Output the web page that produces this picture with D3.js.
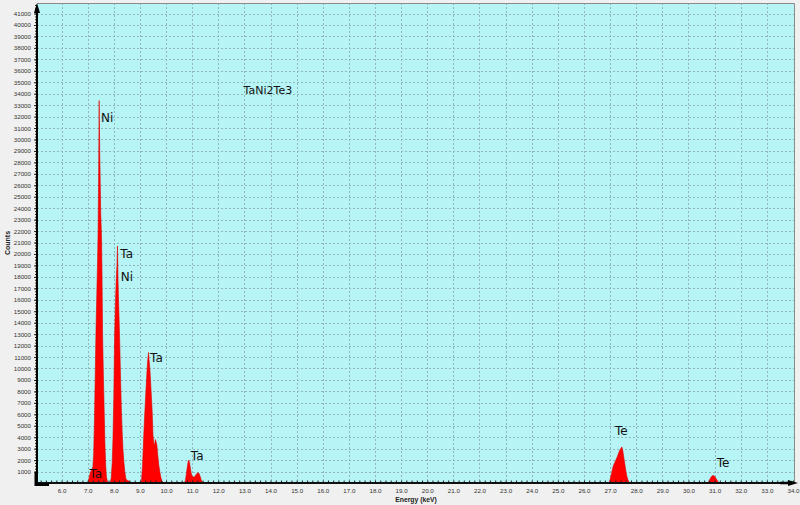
<!DOCTYPE html>
<html><head><meta charset="utf-8">
<script src="https://cdn.jsdelivr.net/npm/d3@7/dist/d3.min.js"></script>
<style>body{margin:0;background:#f0f0f0;} svg{display:block;}</style>
</head><body>
<svg id="chart" width="800" height="505"></svg>
<script>
// ---- data (keV, counts) ----
const peakNiKa = [[7.00,0],[7.04,300],[7.08,700],[7.12,1000],[7.16,1200],[7.20,1400],[7.23,2600],[7.26,5500],[7.29,9500],[7.32,13500],[7.35,16500],[7.38,19500],[7.40,22000],[7.42,27000],[7.44,33400],[7.46,29000],[7.48,26500],[7.50,23500],[7.53,21500],[7.55,18000],[7.57,13000],[7.60,9500],[7.63,6500],[7.66,3500],[7.69,1500],[7.72,500],[7.76,100],[7.80,0]];
const peakTaLa = [[7.86,0],[7.90,400],[7.94,1800],[7.97,4000],[8.00,7500],[8.03,12500],[8.06,15500],[8.09,17500],[8.12,19000],[8.14,20700],[8.16,18000],[8.18,16000],[8.20,14500],[8.23,12000],[8.26,9000],[8.29,6500],[8.32,4500],[8.35,3000],[8.38,2000],[8.42,1000],[8.46,400],[8.50,250],[8.55,200],[8.60,150],[8.65,50],[8.70,0]];
const peakTaLb = [[9.02,0],[9.06,200],[9.10,1500],[9.14,3800],[9.18,5800],[9.22,7600],[9.26,9300],[9.29,10500],[9.31,11000],[9.33,11400],[9.35,10800],[9.38,10000],[9.41,8800],[9.44,7500],[9.47,6200],[9.50,4200],[9.53,3500],[9.56,3300],[9.59,3800],[9.62,3600],[9.65,3300],[9.68,2500],[9.72,1600],[9.76,1000],[9.80,500],[9.84,200],[9.88,80],[9.92,0]];
const peakTaLg = [[10.70,0],[10.74,200],[10.78,800],[10.82,1500],[10.85,1900],[10.87,2000],[10.90,1800],[10.93,1300],[10.96,900],[10.99,650],[11.03,550],[11.07,500],[11.11,600],[11.15,750],[11.19,850],[11.23,900],[11.27,800],[11.31,550],[11.35,250],[11.40,50],[11.44,0]];
const peakTeKa = [[26.94,0],[26.98,150],[27.02,500],[27.06,900],[27.10,1300],[27.14,1600],[27.18,1800],[27.22,2000],[27.26,2200],[27.30,2450],[27.34,2700],[27.38,2900],[27.42,3050],[27.45,3150],[27.48,2900],[27.52,2300],[27.56,1700],[27.60,1100],[27.64,600],[27.68,300],[27.72,100],[27.76,0]];
const peakTeKb = [[30.72,0],[30.76,80],[30.80,250],[30.84,420],[30.88,560],[30.92,640],[30.96,650],[31.00,580],[31.04,450],[31.08,300],[31.12,160],[31.16,60],[31.20,0]];
const peakSmall = [[31.58,0],[31.63,60],[31.66,90],[31.70,50],[31.76,0]];
const spectrum = [[5.06,0], ...peakNiKa, ...peakTaLa, ...peakTaLb, ...peakTaLg, ...peakTeKa, ...peakTeKb, ...peakSmall, [34.04,0]];

const xTicks = d3.range(6, 35, 1);          // 6.0 ... 34.0
const yTicks = d3.range(1000, 41001, 1000); // 1000 ... 41000
const peakLabels = [
  {text:"Ni", e:7.51, c:31530},
  {text:"Ta", e:8.25, c:19650},
  {text:"Ni", e:8.27, c:17640},
  {text:"Ta", e:9.39, c:10570},
  {text:"Ta", e:10.95, c:2010},
  {text:"Ta", e:7.07, c:440},
  {text:"Te", e:27.19, c:4190},
  {text:"Te", e:31.08, c:1400}
];
const sampleLabel = {text:"TaNi2Te3", e:12.97, c:33970};
const xTitle = "Energy (keV)";
const yTitle = "Counts";

// ---- layout ----
const L = 37, R = 794, T = 3, B = 483;
const svg = d3.select("#chart");
const x = d3.scaleLinear().domain([5.06, 34.04]).range([L, R]);
const y = d3.scaleLinear().domain([0, 41920]).range([B, T]);

svg.append("rect").attr("width",800).attr("height",505).attr("fill","#f0f0f0");
svg.append("rect").attr("x",L).attr("y",T).attr("width",R-L).attr("height",B-T).attr("fill","#b6f4f6");

// grid
const grid = svg.append("g").attr("stroke","#8fb6ba").attr("stroke-width",1).attr("stroke-dasharray","2,2");
grid.selectAll("line.v").data(xTicks.filter(d=>d<34)).join("line")
  .attr("x1",d=>Math.round(x(d))+0.5).attr("x2",d=>Math.round(x(d))+0.5).attr("y1",T).attr("y2",B);
grid.selectAll("line.h").data(yTicks).join("line")
  .attr("y1",d=>Math.round(y(d))+0.5).attr("y2",d=>Math.round(y(d))+0.5).attr("x1",L).attr("x2",R);

// border top/right
svg.append("path").attr("d",`M${L},${T+0.5}H${R+0.5}V${B}`).attr("fill","none").attr("stroke","#8a8a8a").attr("stroke-width",1);

// spectrum
const area = d3.area().x(d=>x(d[0])).y0(y(0)).y1(d=>y(d[1]));
svg.append("path").datum(spectrum).attr("d",area).attr("fill","#ff0000").attr("stroke","#e00000").attr("stroke-width",0.6);

// axes
const xAxis = svg.append("g").attr("transform",`translate(0,${B})`)
  .call(d3.axisBottom(x).tickValues(xTicks).tickFormat(d3.format(".1f")).tickSize(0).tickPadding(6));
const xMinor = svg.append("g").attr("transform",`translate(0,${B})`)
  .call(d3.axisBottom(x).tickValues(d3.range(5.2, 34.01, 0.2)).tickFormat("").tickSize(-2.5));
const yAxis = svg.append("g").attr("transform",`translate(${L},0)`)
  .call(d3.axisLeft(y).tickValues(yTicks).tickFormat(d3.format("d")).tickSize(3).tickPadding(3));
const yMinor = svg.append("g").attr("transform",`translate(${L},0)`)
  .call(d3.axisLeft(y).tickValues(d3.range(250, 41900, 250)).tickFormat("").tickSize(2));
[xAxis, xMinor, yAxis, yMinor].forEach(g=>{
  g.select(".domain").remove();
  g.selectAll("line").attr("stroke","#222");
  g.selectAll("text").attr("font-family","Liberation Sans, Arial, sans-serif").attr("font-size","6.2px").attr("fill","#333");
});

// axis lines with arrows
svg.append("line").attr("x1",L).attr("x2",L).attr("y1",B+1).attr("y2",T+6).attr("stroke","#000").attr("stroke-width",2);
svg.append("line").attr("x1",L-1).attr("x2",R-2).attr("y1",B).attr("y2",B).attr("stroke","#111").attr("stroke-width",2);
svg.append("path").attr("d",`M${L},${T} L${L-3},${T+10} L${L+3},${T+10} Z`).attr("fill","#000");
svg.append("path").attr("d",`M${R+4},${B} L${R-6},${B-3} L${R-6},${B+3} Z`).attr("fill","#000");
svg.append("line").attr("x1",R-14).attr("x2",R-4).attr("y1",B).attr("y2",B).attr("stroke","#000").attr("stroke-width",2.5);
// origin mark
svg.append("path").attr("d",`M${L-1},${B-11} V${B+1.5} H${L+12}`).attr("fill","none").attr("stroke","#000").attr("stroke-width",3);

// titles
svg.append("text").attr("x",416).attr("y",502).attr("text-anchor","middle")
  .attr("font-family","Liberation Sans, Arial, sans-serif").attr("font-weight","bold").attr("font-size","6.8px").attr("fill","#222").text(xTitle);
svg.append("text").attr("transform","translate(10,243) rotate(-90)").attr("text-anchor","middle")
  .attr("font-family","Liberation Sans, Arial, sans-serif").attr("font-weight","bold").attr("font-size","7px").attr("fill","#222").text(yTitle);

// labels
svg.selectAll("text.pk").data(peakLabels).join("text").attr("class","pk")
  .attr("x",d=>x(d.e)).attr("y",d=>y(d.c))
  .attr("font-family","DejaVu Sans, sans-serif").attr("font-size","12px").attr("fill","#111").text(d=>d.text);
svg.append("text").attr("x",x(sampleLabel.e)).attr("y",y(sampleLabel.c))
  .attr("font-family","DejaVu Sans, sans-serif").attr("font-size","11px").attr("fill","#111").text(sampleLabel.text);
</script>
</body></html>
